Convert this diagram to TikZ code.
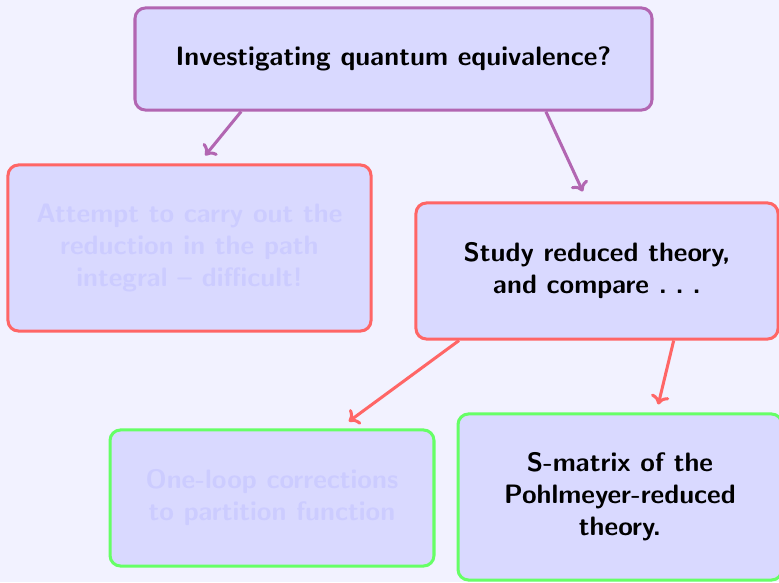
\documentclass[tikz,border=0pt]{standalone}
\usepackage{tikz}
\usetikzlibrary{arrows.meta, calc}

\font\slidefont=cmssbx10 at 11.45pt

\begin{document}
\begin{tikzpicture}[
    x=0.43pt, y=-0.43pt,
    box/.style={rectangle, draw, rounded corners=4.5pt, fill=blue!15, line width=1.3pt, align=center, inner sep=0pt, font=\fontsize{11}{13.8}\selectfont\slidefont},
    askbox/.style={box, draw=violet!60},
    subbox/.style={box, draw=red!60},
    leafbox/.style={box, draw=green!60},
    faded/.style={text=blue!20},
    arrow/.style={-{To[length=4pt, width=8pt]}, line width=1.3pt},
]

% Slide background
\fill[blue!5] (0,0) rectangle (779,582);
\clip (0,0) rectangle (779,582);

% Question
\node[askbox, minimum width=222.3pt, minimum height=43.9pt] (ask) at (393.5,59) {Investigating quantum equivalence?};

% Two routes
\node[subbox, faded, minimum width=156.1pt, minimum height=71.4pt] (path) at (189.5,248) {Attempt to carry out the\\reduction in the path\\integral -- difficult!};
\node[subbox, minimum width=155.7pt, minimum height=58.5pt] (study) at (597,271) {Study reduced theory,\\and compare .\hspace{0.3em}.\hspace{0.3em}.};

% Comparisons
\node[leafbox, faded, minimum width=139.3pt, minimum height=58.5pt] (loop) at (272,498) {One-loop corrections\\to partition function};
\node[leafbox, minimum width=139.3pt, minimum height=71.4pt] (smat) at (620,497) {S-matrix of the\\Pohlmeyer-reduced\\theory.};

% Arrows
\draw[arrow, violet!60] ($(ask.south west)!0.207!(ask.south east)$) -- ($(path.north west)!0.543!(path.north east)+(0,-8)$);
\draw[arrow, violet!60] ($(ask.south west)!0.793!(ask.south east)$) -- ($(study.north west)!0.461!(study.north east)+(0,-10)$);
\draw[arrow, red!60] ($(study.south west)!0.122!(study.south east)$) -- ($(loop.north west)!0.735!(loop.north east)+(0,-7)$);
\draw[arrow, red!60] ($(study.south west)!0.71!(study.south east)$) -- ($(smat.north west)!0.617!(smat.north east)+(0,-8)$);

\end{tikzpicture}
\end{document}
